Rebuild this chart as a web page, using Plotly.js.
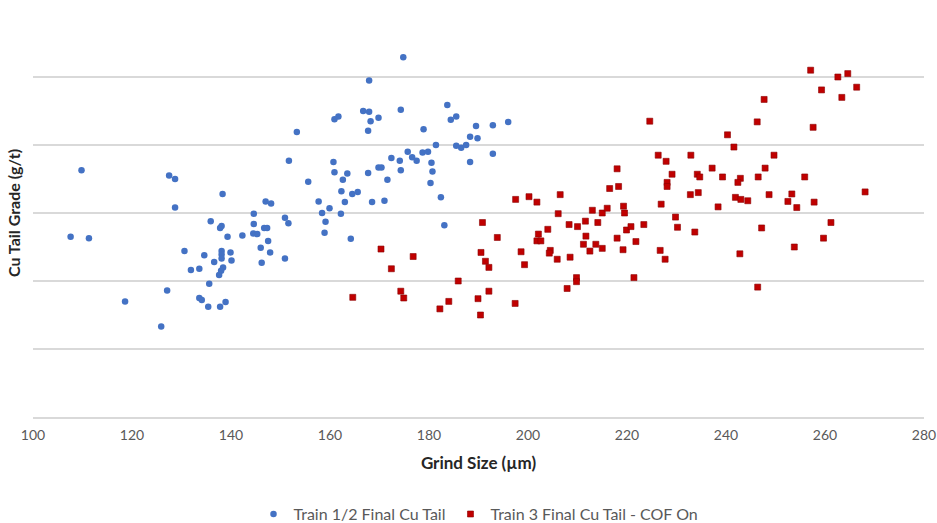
<!DOCTYPE html>
<html>
<head>
<meta charset="utf-8">
<script src="https://cdn.plot.ly/plotly-3.0.1.min.js"></script>
<style>html,body{margin:0;padding:0;background:#fff;}#chart{width:937px;height:523px;}</style>
</head>
<body>
<div id="chart"></div>
<script>
// Train 1/2 Final Cu Tail
const train12Grind = [109.8,127.5,128.7,128.7,107.6,111.3,118.6,127.1,125.9,153.3,151.7,155.6,157.7,158.4,159.9,159.1,158.9,138.3,147.0,148.1,144.6,150.9,151.6,135.9,138.1,137.8,139.3,142.3,144.6,144.5,145.3,146.7,147.3,147.5,146.0,147.9,146.2,150.9,130.6,134.6,138.1,138.1,139.9,138.1,140.1,136.6,138.4,138.0,137.6,131.9,133.6,135.6,133.6,134.1,135.4,137.8,138.9,174.8,167.9,160.9,161.7,166.7,167.9,168.2,169.8,167.7,174.3,178.9,183.7,184.4,185.5,189.5,189.8,188.3,160.7,160.9,163.5,162.6,162.3,163.0,162.2,164.5,165.6,164.2,167.7,168.5,169.8,170.4,171.6,171.0,172.4,174.1,174.3,175.7,176.6,177.5,178.7,179.8,181.4,180.5,180.7,180.3,182.4,183.1,185.5,186.5,187.5,188.3,192.9,196.0,192.9];
const train12Grade = [3.63,3.55,3.50,3.08,2.65,2.63,1.70,1.86,1.33,4.19,3.77,3.46,3.17,3.00,3.07,2.87,2.71,3.28,3.17,3.14,2.99,2.93,2.85,2.88,2.81,2.78,2.65,2.67,2.84,2.70,2.69,2.78,2.78,2.59,2.49,2.42,2.27,2.33,2.44,2.38,2.44,2.39,2.42,2.33,2.30,2.28,2.20,2.15,2.09,2.16,2.18,1.96,1.75,1.72,1.62,1.62,1.69,5.29,4.95,4.38,4.42,4.50,4.49,4.35,4.40,4.21,4.52,4.23,4.59,4.37,4.42,4.28,4.10,4.12,3.75,3.60,3.58,3.49,3.32,3.16,2.99,3.28,3.31,2.62,3.59,3.16,3.67,3.67,3.49,3.18,3.81,3.77,3.63,3.90,3.82,3.77,3.89,3.90,4.00,3.74,3.61,3.44,3.23,2.82,3.99,3.96,4.00,3.75,4.29,4.34,3.87];

// Train 3 Final Cu Tail - COF On
const train3Grind = [170.3,176.8,172.4,164.6,174.3,174.9,185.9,184.0,182.2,189.9,190.4,190.8,193.8,190.5,191.4,192.1,192.1,197.5,200.2,201.8,206.5,206.1,204.0,202.1,201.8,202.6,198.6,199.3,204.5,204.3,205.9,208.5,208.3,210.0,211.6,211.7,211.2,212.5,213.7,215.0,214.1,213.0,215.0,216.0,216.5,218.3,218.0,219.3,219.5,219.9,218.0,219.2,209.8,209.8,207.9,197.4,221.4,223.4,224.6,226.3,227.9,229.1,228.1,228.1,226.9,229.8,230.2,226.7,227.7,232.9,234.2,234.7,232.8,234.4,233.7,220.8,221.8,237.2,239.3,238.4,240.3,241.6,242.9,242.4,241.9,243.0,244.4,242.8,246.4,246.3,247.7,246.5,247.9,249.7,248.7,247.2,255.9,253.3,252.5,254.3,257.8,268.1,261.2,259.7,253.8,257.1,262.6,264.6,259.3,266.4,263.4,257.6];
const train3Grade = [2.47,2.36,2.18,1.76,1.85,1.75,2.00,1.70,1.59,1.74,1.50,2.86,2.64,2.42,2.29,2.20,1.85,3.20,3.24,3.16,3.27,2.99,2.76,2.69,2.59,2.59,2.43,2.24,2.45,2.41,2.32,2.35,2.83,2.80,2.88,2.66,2.54,2.44,2.54,2.48,2.86,3.04,3.00,3.07,3.36,3.39,3.65,3.10,3.00,2.75,2.63,2.46,2.05,1.99,1.89,1.67,2.05,2.83,4.35,3.85,3.76,3.57,3.45,3.39,3.13,2.94,2.79,2.45,2.32,3.85,3.57,3.53,3.27,3.30,2.72,2.80,2.58,3.66,3.53,3.09,4.15,3.97,3.51,3.45,3.23,3.20,3.18,2.40,1.91,4.34,4.67,3.53,3.66,3.85,3.27,2.78,3.53,3.28,3.17,3.08,3.16,3.31,2.86,2.63,2.50,5.10,5.00,5.05,4.81,4.85,4.70,4.26];

const xTicks = [100,120,140,160,180,200,220,240,260,280];

const font = "Lato, 'Open Sans', sans-serif";

const traces = [
  {
    x: train12Grind, y: train12Grade, type: 'scatter', mode: 'markers',
    name: 'Train 1/2 Final Cu Tail',
    marker: {symbol: 'circle', size: 6.5, color: '#4472C4', line: {width: 0}}
  },
  {
    x: train3Grind, y: train3Grade, type: 'scatter', mode: 'markers',
    name: 'Train 3 Final Cu Tail - COF On',
    marker: {symbol: 'square', size: 6, color: '#C00000', line: {width: 0.6, color: '#8B0000'}}
  }
];

const layout = {
  width: 937, height: 523,
  margin: {l: 33, r: 13, t: 9, b: 106},
  paper_bgcolor: '#ffffff', plot_bgcolor: '#ffffff',
  font: {family: font, color: '#595959', size: 14},
  showlegend: true,
  legend: {orientation: 'h', x: 0.5, xanchor: 'center', xref: 'paper',
           y: 0.017, yanchor: 'middle', yref: 'container',
           font: {size: 16, color: '#595959'}, tracegroupgap: 0},
  xaxis: {
    range: [100, 280], tickvals: xTicks, ticktext: xTicks.map(String),
    showgrid: false, zeroline: false, showline: true, linecolor: '#d9d9d9', linewidth: 1.5,
    ticks: '', tickfont: {size: 14, color: '#595959'}, ticklabelstandoff: 5,
    title: {text: 'Grind Size (µm)', font: {size: 17, color: '#262626', family: font, weight: 'bold'}, standoff: 15},
    automargin: false, fixedrange: true
  },
  yaxis: {
    range: [0, 6], dtick: 1, tick0: 0,
    showgrid: true, gridcolor: '#d9d9d9', gridwidth: 1.5,
    zeroline: false, showline: false, showticklabels: false, ticks: '',
    title: {text: 'Cu Tail Grade (g/t)', font: {size: 16, color: '#262626', family: font, weight: 'bold'}, standoff: 7},
    automargin: false, fixedrange: true
  }
};

Plotly.newPlot('chart', traces, layout, {displayModeBar: false, staticPlot: true});
</script>
</body>
</html>
